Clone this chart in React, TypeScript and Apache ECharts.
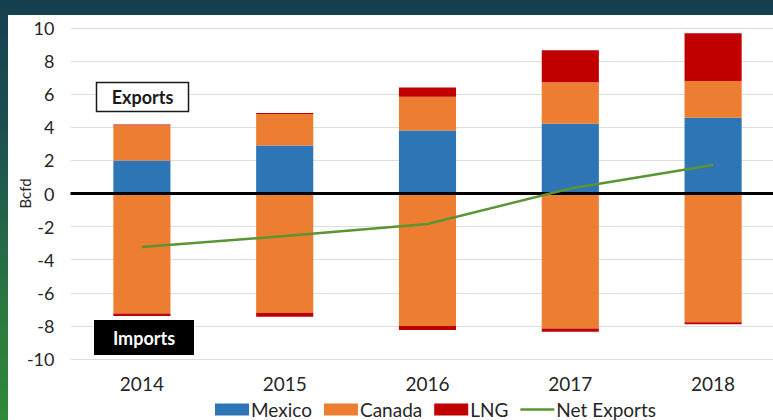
import React, { useEffect, useRef } from "react";
import * as echarts from "echarts";

const years = ["2014", "2015", "2016", "2017", "2018"];
const mexicoExports = [2.0, 2.9, 3.8, 4.22, 4.58];
const canadaExports = [2.12, 1.9, 2.05, 2.5, 2.22];
const lngExports = [0.05, 0.07, 0.55, 1.93, 2.88];
const canadaImports = [-7.25, -7.2, -8.0, -8.15, -7.78];
const lngImports = [-0.15, -0.25, -0.25, -0.2, -0.12];
const netExports = [-3.23, -2.57, -1.84, 0.3, 1.72];
const yTicks = { min: -10, max: 10, interval: 2 };

const FONT = "Lato, 'Open Sans', sans-serif";
const BLUE = "#2e75b6";
const ORANGE = "#ed7d31";
const RED = "#c00000";
const GREEN = "#5b9432";

export default function App() {
  const ref = useRef<HTMLDivElement>(null);
  useEffect(() => {
    if (!ref.current) return;
    const chart = echarts.init(ref.current, undefined, { renderer: "svg" });
    chart.setOption({
      animation: false,
      backgroundColor: "#ffffff",
      textStyle: { fontFamily: FONT },
      grid: { left: 62.5, right: -11.5, top: 13, bottom: 61, outerBoundsMode: "none", containLabel: false },
      legend: {
        top: 380,
        left: 202,
        itemWidth: 34,
        itemHeight: 12,
        itemGap: 12,
        textStyle: { fontSize: 19, color: "#262626", fontFamily: FONT, padding: [0, 0, 0, -3] },
        data: [
          { name: "Mexico", icon: "rect" },
          { name: "Canada", icon: "rect" },
          { name: "LNG", icon: "rect" },
          { name: "Net Exports", icon: "path://M0,0 H34 V2.5 H0 Z", itemStyle: { color: GREEN } },
        ],
      },
      xAxis: {
        type: "category",
        data: years,
        axisLine: { show: false, onZero: false },
        axisTick: { show: false },
        axisLabel: { fontSize: 19, color: "#262626", margin: 15, fontFamily: FONT },
      },
      yAxis: {
        type: "value",
        min: yTicks.min,
        max: yTicks.max,
        interval: yTicks.interval,
        axisLine: { show: false },
        axisTick: { show: false },
        axisLabel: { fontSize: 18, color: "#262626", margin: 16, fontFamily: FONT },
        splitLine: { lineStyle: { color: "#dedede", width: 1 } },
      },
      graphic: [
        {
          type: "text",
          x: 17,
          y: 178.5,
          rotation: Math.PI / 2,
          style: {
            text: "Bcfd",
            fill: "#262626",
            font: `15px ${FONT}`,
            align: "center",
            verticalAlign: "middle",
          },
        },
        {
          type: "rect",
          shape: { x: 88.5, y: 67.5, width: 92, height: 29 },
          style: { fill: "#ffffff", stroke: "#1a1a1a", lineWidth: 1.5 },
          z: 100,
        },
        {
          type: "text",
          x: 134.5,
          y: 82,
          style: {
            text: "Exports",
            fill: "#1a1a1a",
            font: `bold 18px ${FONT}`,
            align: "center",
            verticalAlign: "middle",
          },
          z: 101,
        },
        {
          type: "rect",
          shape: { x: 86, y: 305, width: 100, height: 35 },
          style: { fill: "#000000" },
          z: 100,
        },
        {
          type: "text",
          x: 136,
          y: 322.5,
          style: {
            text: "Imports",
            fill: "#ffffff",
            font: `bold 18px ${FONT}`,
            align: "center",
            verticalAlign: "middle",
          },
          z: 101,
        },
      ],
      series: [
        {
          name: "Mexico",
          type: "bar",
          stack: "t",
          barWidth: "40%",
          data: mexicoExports,
          itemStyle: { color: BLUE },
        },
        {
          name: "Canada",
          type: "bar",
          stack: "t",
          data: canadaExports,
          itemStyle: { color: ORANGE },
        },
        {
          name: "LNG",
          type: "bar",
          stack: "t",
          data: lngExports,
          itemStyle: { color: RED },
        },
        {
          name: "Canada",
          type: "bar",
          stack: "t",
          data: canadaImports,
          itemStyle: { color: ORANGE },
        },
        {
          name: "LNG",
          type: "bar",
          stack: "t",
          data: lngImports,
          itemStyle: { color: RED },
          markLine: {
            silent: true,
            symbol: "none",
            label: { show: false },
            lineStyle: { color: "#000000", width: 3, type: "solid" },
            data: [{ yAxis: 0 }],
            z: 5,
          },
        },
        {
          name: "Net Exports",
          type: "line",
          data: netExports,
          symbol: "none",
          showSymbol: false,
          lineStyle: { color: GREEN, width: 2.5 },
          itemStyle: { color: GREEN },
          z: 10,
        },
      ],
    });
    return () => chart.dispose();
  }, []);

  return (
    <div
      style={{
        position: "fixed",
        left: 0,
        top: 0,
        width: 773,
        height: 420,
        background: "linear-gradient(to bottom, #163f4f 0%, #1d5350 35%, #2a7a3e 75%, #2f8a38 100%)",
        overflow: "hidden",
      }}
    >
      <div
        ref={ref}
        style={{ position: "absolute", left: 8, top: 15, width: 765, height: 405 }}
      />
    </div>
  );
}
